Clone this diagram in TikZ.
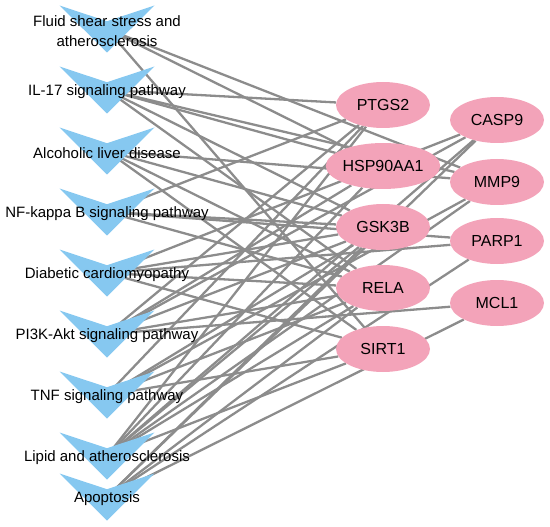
\documentclass[tikz,border=0pt]{standalone}
\usepackage{fontspec}
\setmainfont{Liberation Sans}
\usepackage{tikz}
\usetikzlibrary{positioning,shapes.geometric,calc}
\definecolor{bleuciel}{HTML}{86C8F0}
\definecolor{rose}{HTML}{F3A3B9}
\definecolor{grislien}{HTML}{8C8C8C}
\pgfdeclarelayer{dessous}
\pgfsetlayers{dessous,main}
\tikzset{
  voie/.style={align=center,inner sep=0pt,font=\fontsize{15}{20}\selectfont},
  cible/.style={ellipse,fill=rose,minimum width=94pt,minimum height=46pt,
                inner sep=0pt,font=\fontsize{16}{18}\selectfont},
  lien/.style={draw=grislien,line width=2.3pt},
  vee/.style={fill=bleuciel},
}

\begin{document}
\begin{tikzpicture}[x=1pt,y=-1pt]
  \useasboundingbox (0,0) rectangle (550,527);
  % voies (pathways)
  \node[voie] (fss) at (107,31) {Fluid shear stress and\\atherosclerosis};
  \node[voie] (il17) at (107,92) {IL-17 signaling pathway};
  \node[voie] (ald) at (107,153) {Alcoholic liver disease};
  \node[voie] (nfkb) at (107,214) {NF-kappa B signaling pathway};
  \node[voie] (dcm) at (107,275) {Diabetic cardiomyopathy};
  \node[voie] (pi3k) at (107,336) {PI3K-Akt signaling pathway};
  \node[voie] (tnf) at (107,397) {TNF signaling pathway};
  \node[voie] (lipid) at (107,458) {Lipid and atherosclerosis};
  \node[voie] (apop) at (107,499) {Apoptosis};
  % cibles (genes)
  \node[cible] (ptgs2) at (383,105) {PTGS2};
  \node[cible] (hsp) at (383,166) {HSP90AA1};
  \node[cible] (gsk3b) at (383,227) {GSK3B};
  \node[cible] (rela) at (383,288) {RELA};
  \node[cible] (sirt1) at (383,349) {SIRT1};
  \node[cible] (casp9) at (497,120) {CASP9};
  \node[cible] (mmp9) at (497,182) {MMP9};
  \node[cible] (parp1) at (497,241) {PARP1};
  \node[cible] (mcl1) at (497,303) {MCL1};
  \begin{pgfonlayer}{dessous}
    % liens voie -> cible
    \foreach \v/\cs in {fss/{hsp,mmp9,sirt1},
                        il17/{ptgs2,hsp,mmp9,gsk3b,rela},
                        ald/{mmp9,gsk3b,rela,sirt1},
                        nfkb/{ptgs2,gsk3b,rela,parp1},
                        dcm/{gsk3b,rela,sirt1,casp9,parp1},
                        pi3k/{ptgs2,hsp,gsk3b,rela,casp9,mcl1},
                        tnf/{ptgs2,gsk3b,rela,mmp9,sirt1},
                        lipid/{ptgs2,hsp,gsk3b,rela,casp9,mmp9,sirt1},
                        apop/{gsk3b,rela,casp9,parp1,mcl1}}
      \foreach \c in \cs
        \draw[lien] ($(\v.center)+(0,-2)$) -- (\c);
    % formes en V
    \foreach \v in {fss,il17,ald,nfkb,dcm,pi3k,tnf,lipid,apop}
      \fill[vee] ($(\v.center)+(-47.5,-25.5)$) -- ($(\v.center)+(0,-9.8)$)
        -- ($(\v.center)+(47.5,-25.5)$) -- ($(\v.center)+(0,21.5)$) -- cycle;
  \end{pgfonlayer}
\end{tikzpicture}
\end{document}
